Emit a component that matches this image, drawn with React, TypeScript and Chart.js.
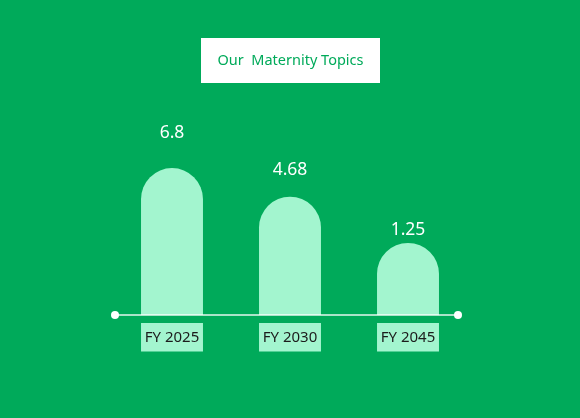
import React, { useEffect, useRef } from "react";
import { Chart, registerables } from "chart.js";

Chart.register(...registerables);

const TITLE = "Our  Maternity Topics";
const CATEGORIES = ["FY 2025", "FY 2030", "FY 2045"];
const VALUES = [6.8, 4.68, 1.25];
const VALUE_LABELS = ["6.8", "4.68", "1.25"];

const BG = "#00AA5A";
const BAR = "#A3F5CF";
const Y_MIN = -4.1;
const Y_MAX = 11.85;
const FONT = "'Noto Sans', 'Open Sans', sans-serif";

const decor = {
  id: "decor",
  beforeDraw(chart: any) {
    const { ctx, width, height } = chart;
    ctx.save();
    ctx.fillStyle = BG;
    ctx.fillRect(0, 0, width, height);
    // title box
    const cx = (chart.chartArea.left + chart.chartArea.right) / 2;
    ctx.fillStyle = "#ffffff";
    ctx.fillRect(cx - 89, 38, 179, 45);
    ctx.fillStyle = "#00AA5A";
    ctx.font = `14.5px ${FONT}`;
    ctx.textAlign = "center";
    ctx.textBaseline = "middle";
    ctx.fillText(TITLE, cx + 0.5, 61);
    ctx.restore();
  },
  afterDatasetsDraw(chart: any) {
    const { ctx, chartArea } = chart;
    const meta = chart.getDatasetMeta(0);
    const yLab = chart.scales.yLabel;
    const baseY = chart.scales.y.getPixelForValue(Y_MIN);
    ctx.save();
    // baseline
    ctx.strokeStyle = "rgba(255,255,255,0.9)";
    ctx.lineWidth = 1.5;
    const x0 = chartArea.left + 2;
    const x1 = chartArea.right - 9;
    ctx.beginPath();
    ctx.moveTo(x0, baseY);
    ctx.lineTo(x1, baseY);
    ctx.stroke();
    ctx.fillStyle = "#ffffff";
    [x0, x1].forEach((x) => {
      ctx.beginPath();
      ctx.arc(x, baseY, 4, 0, Math.PI * 2);
      ctx.fill();
    });
    meta.data.forEach((bar: any, i: number) => {
      const w = bar.width;
      // category box
      ctx.fillStyle = BAR;
      ctx.fillRect(bar.x - w / 2, baseY + 8, w, 28.5);
      ctx.fillStyle = "#1c1c1c";
      ctx.font = `15px ${FONT}`;
      ctx.textAlign = "center";
      ctx.textBaseline = "middle";
      ctx.fillText(CATEGORIES[i], bar.x, baseY + 22.5);
      // value label
      ctx.fillStyle = "#ffffff";
      ctx.font = `17.5px ${FONT}`;
      ctx.fillText(VALUE_LABELS[i], bar.x, yLab.getPixelForValue(VALUES[i]));
    });
    ctx.restore();
  },
};

export default function App() {
  const ref = useRef<HTMLCanvasElement>(null);
  useEffect(() => {
    const chart = new Chart(ref.current!, {
      type: "bar",
      data: {
        labels: CATEGORIES,
        datasets: [
          {
            data: VALUES,
            backgroundColor: BAR,
            borderWidth: 0,
            borderRadius: 100,
            borderSkipped: "start",
            base: Y_MIN,
            categoryPercentage: 1,
            barPercentage: 0.525,
          } as any,
        ],
      },
      options: {
        animation: false,
        responsive: false,
        maintainAspectRatio: false,
        devicePixelRatio: 1,
        layout: { padding: { left: 113, right: 113, top: 100, bottom: 103 } },
        plugins: { legend: { display: false }, tooltip: { enabled: false }, title: { display: false } },
        scales: {
          x: { display: false, grid: { display: false } },
          y: { display: false, min: Y_MIN, max: Y_MAX },
          yLabel: { display: false, min: -3.6, max: 8.686, position: "right" },
        },
      } as any,
      plugins: [decor],
    });
    return () => chart.destroy();
  }, []);
  return (
    <div style={{ position: "fixed", left: 0, top: 0, width: 580, height: 418 }}>
      <canvas ref={ref} width={580} height={418} style={{ width: 580, height: 418, display: "block" }} />
    </div>
  );
}
